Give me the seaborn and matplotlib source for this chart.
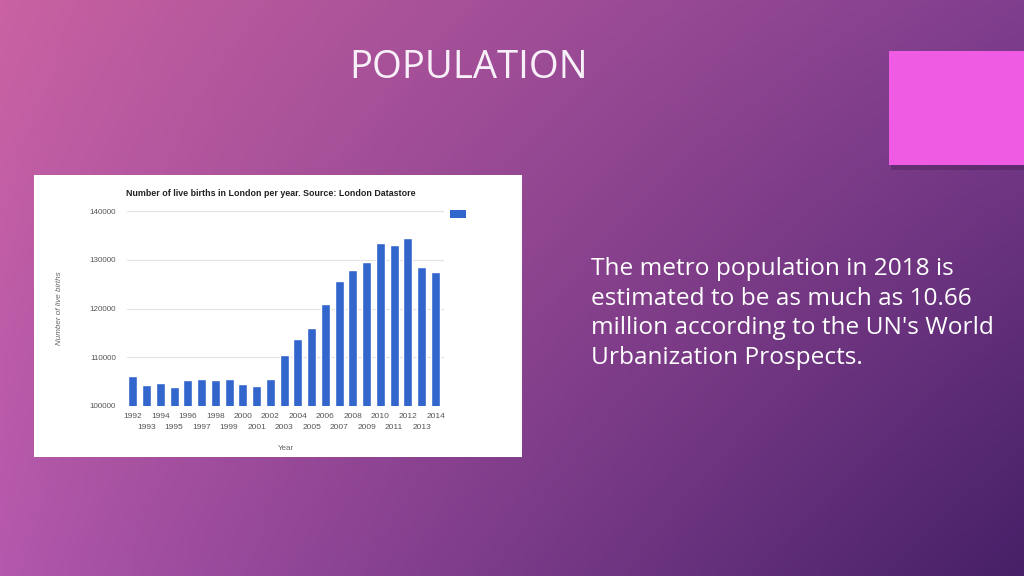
"""
plot.py

Slide recreation: London live births per year bar chart on a purple gradient
slide, with a title, a short text block and a pink accent square.
"""

import numpy as np
import pandas as pd
import matplotlib
matplotlib.use("Agg")
import matplotlib.pyplot as plt
import seaborn as sns
from matplotlib.patches import Rectangle

# --- data ------------------------------------------------------------------
years = list(range(1992, 2015))
births = [106200, 104300, 104800, 104000, 105300, 105500, 105300, 105500,
          104600, 104100, 105500, 110500, 113700, 116100, 121000, 125700,
          127900, 129500, 133400, 133100, 134500, 128600, 127500]
y_ticks = [100000, 110000, 120000, 130000, 140000]

chart_title = "Number of live births in London per year. Source: London Datastore"
slide_title = "POPULATION"
slide_text = ("The metro population in 2018 is\n"
              "estimated to be as much as 10.66\n"
              "million according to the UN's World\n"
              "Urbanization Prospects.")

W, H = 1024, 576
BAR_BLUE = "#3366CC"

sns.set_theme(style="white")
plt.rcParams["font.family"] = ["Liberation Sans", "DejaVu Sans"]

fig = plt.figure(figsize=(W / 100, H / 100), dpi=100)


def fx(px):
    return px / W


def fy(py):
    # pixel y measured from top -> figure fraction from bottom
    return 1 - py / H


# --- background gradient ----------------------------------------------------
bg = fig.add_axes([0, 0, 1, 1])
gx, gy = np.meshgrid(np.linspace(0, 1, 256), np.linspace(0, 1, 144))
tl = np.array([202, 98, 162]) / 255
tr = np.array([128, 62, 142]) / 255
bl = np.array([180, 88, 173]) / 255
br = np.array([70, 32, 104]) / 255
gxs = gx[..., None] ** 0.9
gys = gy[..., None]
grad = (tl * (1 - gxs) * (1 - gys) + tr * gxs * (1 - gys)
        + bl * (1 - gxs) * gys + br * gxs * gys)
bg.imshow(grad, extent=[0, 1, 0, 1], aspect="auto", origin="upper")
bg.set_xlim(0, 1)
bg.set_ylim(0, 1)
bg.axis("off")

# white card behind the chart
fig.patches.append(Rectangle((fx(34), fy(457)), fx(522 - 34), (457 - 175) / H,
                             transform=fig.transFigure, facecolor="white",
                             edgecolor="none", zorder=1))

# pink accent square with a soft shadow
fig.patches.append(Rectangle((fx(891), fy(170)), fx(1024 - 891), (170 - 56) / H,
                             transform=fig.transFigure, facecolor="#3c1848",
                             alpha=0.3, edgecolor="none", zorder=1))
fig.patches.append(Rectangle((fx(889), fy(165)), fx(1024 - 889), (165 - 51) / H,
                             transform=fig.transFigure, facecolor="#EF5BE3",
                             edgecolor="none", zorder=2))

# slide texts
fig.text(fx(469), fy(68), slide_title, ha="center", va="center",
         fontsize=27.5, color="#f8f0f8", family=["Open Sans", "DejaVu Sans"])
fig.text(fx(591), fy(257), slide_text, ha="left", va="top", fontsize=17.6,
         color="white", linespacing=1.31, family=["Open Sans", "DejaVu Sans"])

# --- the bar chart ----------------------------------------------------------
df = pd.DataFrame({"year": [str(y) for y in years], "births": births})

ax = fig.add_axes([fx(127), fy(406), fx(444 - 127), (406 - 211) / H], zorder=3)
ax.set_facecolor("none")
sns.barplot(data=df, x="year", y="births", color=BAR_BLUE, saturation=1,
            width=0.66, ax=ax, zorder=3)

ax.set_ylim(y_ticks[0], y_ticks[-1])
ax.set_xlim(-0.42, len(years) - 1 + 0.62)
ax.set_yticks(y_ticks)
ax.set_yticklabels([str(t) for t in y_ticks])
ax.tick_params(axis="y", labelsize=5.8, labelcolor="#555555", length=0, pad=8)

# even years on the first row, odd years on a second row (minor ticks)
pos = list(range(len(years)))
ax.set_xticks(pos[0::2])
ax.set_xticklabels([str(y) for y in years[0::2]])
ax.set_xticks(pos[1::2], minor=True)
ax.set_xticklabels([str(y) for y in years[1::2]], minor=True)
ax.tick_params(axis="x", which="major", labelsize=6.0, labelcolor="#555555",
               length=0, pad=5)
ax.tick_params(axis="x", which="minor", labelsize=6.0, labelcolor="#555555",
               length=0, pad=13)

ax.grid(axis="y", color="#e2e2e2", linewidth=0.8, zorder=0)
ax.set_axisbelow(True)
for side in ["top", "right", "left", "bottom"]:
    ax.spines[side].set_visible(False)
ax.axhline(y_ticks[0], color="#bbbbbb", linewidth=0.8, zorder=2)

ax.set_xlabel("Year", fontsize=5.8, color="#666666", labelpad=10)
ax.set_ylabel("Number of live births", fontsize=5.8, color="#666666",
              style="italic", labelpad=19)
ax.set_title(chart_title, fontsize=6.4, fontweight="bold", color="#222222",
             loc="left", x=-0.003, pad=11)

# legend swatch (series has no name in the original)
fig.patches.append(Rectangle((fx(450), fy(218)), fx(16), 8 / H,
                             transform=fig.transFigure, facecolor=BAR_BLUE,
                             edgecolor="none", zorder=4))

fig.savefig("out.png", dpi=100)
plt.close(fig)
